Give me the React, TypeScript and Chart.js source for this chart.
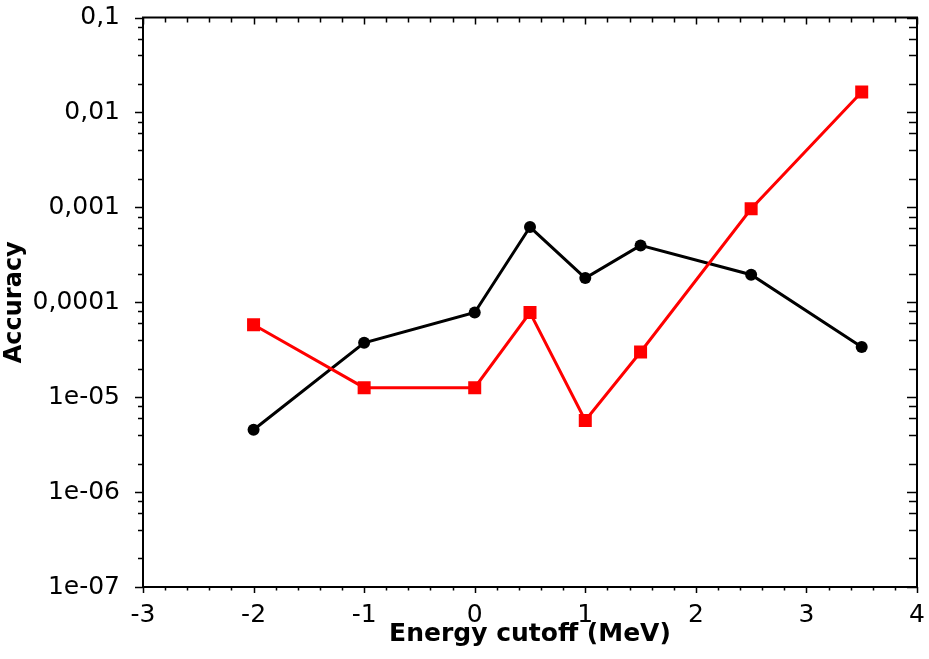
import React, { useEffect, useRef } from "react";
import { Chart, registerables } from "chart.js";

Chart.register(...registerables);

// ---- data ----
const energyCutoff = [-2, -1, 0, 0.5, 1, 1.5, 2.5, 3.5];
const blackAccuracy = [4.54e-6, 3.74e-5, 7.8e-5, 6.2e-4, 1.8e-4, 3.97e-4, 1.95e-4, 3.37e-5];
const redAccuracy = [5.8e-5, 1.26e-5, 1.26e-5, 7.8e-5, 5.68e-6, 2.99e-5, 9.66e-4, 1.64e-2];

const xMajorTicks = [-3, -2, -1, 0, 1, 2, 3, 4];
const xMinorPerMajor = 5;
const yMajorTicks = [1e-7, 1e-6, 1e-5, 1e-4, 1e-3, 1e-2, 1e-1];
const yTickLabels = ["1e-07", "1e-06", "1e-05", "0,0001", "0,001", "0,01", "0,1"];
const yMinorMultipliers = [2, 4, 6, 8];

const xTitle = "Energy cutoff (MeV)";
const yTitle = "Accuracy";

const FONT = "'DejaVu Sans', Verdana, sans-serif";

const framePlugin = {
  id: "frameTicks",
  afterDraw(chart: any) {
    const { ctx, chartArea } = chart;
    const { left, right, top, bottom } = chartArea;
    const xs = chart.scales.x;
    const ys = chart.scales.y;
    ctx.save();
    ctx.strokeStyle = "#000";
    ctx.lineWidth = 2;
    ctx.strokeRect(left, top, right - left, bottom - top);
    ctx.lineWidth = 1.5;
    ctx.beginPath();
    for (let i = 0; i < xMajorTicks.length; i++) {
      const v = xMajorTicks[i];
      const px = Math.round(xs.getPixelForValue(v)) + 0.5;
      ctx.moveTo(px, bottom); ctx.lineTo(px, bottom + 6);
      ctx.moveTo(px, top); ctx.lineTo(px, top + 7);
      if (i < xMajorTicks.length - 1) {
        const next = xMajorTicks[i + 1];
        for (let k = 1; k < xMinorPerMajor; k++) {
          const mv = v + ((next - v) * k) / xMinorPerMajor;
          const mp = Math.round(xs.getPixelForValue(mv)) + 0.5;
          ctx.moveTo(mp, bottom); ctx.lineTo(mp, bottom + 3.5);
          ctx.moveTo(mp, top); ctx.lineTo(mp, top + 5);
        }
      }
    }
    for (let i = 0; i < yMajorTicks.length; i++) {
      const v = yMajorTicks[i];
      const py = Math.round(ys.getPixelForValue(v)) + 0.5;
      ctx.moveTo(left, py); ctx.lineTo(left - 8, py);
      ctx.moveTo(right, py); ctx.lineTo(right - 10, py);
      if (i < yMajorTicks.length - 1) {
        for (const m of yMinorMultipliers) {
          const mp = Math.round(ys.getPixelForValue(v * m)) + 0.5;
          ctx.moveTo(left, mp); ctx.lineTo(left - 5, mp);
          ctx.moveTo(right, mp); ctx.lineTo(right - 8, mp);
        }
      }
    }
    ctx.stroke();
    ctx.restore();
  },
};

export default function App() {
  const ref = useRef<HTMLCanvasElement | null>(null);

  useEffect(() => {
    if (!ref.current) return;
    const chart = new Chart(ref.current, {
      type: "line",
      data: {
        datasets: [
          {
            label: "red",
            data: energyCutoff.map((x, i) => ({ x, y: redAccuracy[i] })),
            borderColor: "#ff0000",
            backgroundColor: "#ff0000",
            borderWidth: 3,
            pointStyle: "rect",
            pointRadius: 9.2,
            pointBorderWidth: 0,
            tension: 0,
            order: 0,
          },
          {
            label: "black",
            data: energyCutoff.map((x, i) => ({ x, y: blackAccuracy[i] })),
            borderColor: "#000000",
            backgroundColor: "#000000",
            borderWidth: 3,
            pointStyle: "circle",
            pointRadius: 6,
            pointBorderWidth: 0,
            tension: 0,
            order: 1,
          },
        ],
      },
      options: {
        animation: false,
        responsive: false,
        devicePixelRatio: 1,
        layout: { padding: { top: 17.5, right: 12, left: 0, bottom: 0 } },
        plugins: {
          legend: { display: false },
          tooltip: { enabled: false },
        },
        scales: {
          x: {
            type: "linear",
            min: -3,
            max: 4,
            border: { display: false },
            grid: { display: false },
            afterBuildTicks: (scale: any) => {
              scale.ticks = xMajorTicks.map((v) => ({ value: v }));
            },
            ticks: {
              color: "#000",
              font: { family: FONT, size: 25 },
              padding: 5,
              maxRotation: 0,
              autoSkip: false,
              callback: (v: any) => String(v),
            },
            title: {
              display: true,
              text: xTitle,
              color: "#000",
              font: { family: FONT, size: 25, weight: "bold" },
              padding: { top: 0, bottom: 10 },
            },
            afterFit: (scale: any) => {
              scale.height = 72;
              scale.paddingLeft = 0;
              scale.paddingRight = 0;
            },
          },
          y: {
            type: "logarithmic",
            min: 1e-7,
            max: 0.1,
            border: { display: false },
            grid: { display: false },
            afterBuildTicks: (scale: any) => {
              scale.ticks = yMajorTicks.map((v) => ({ value: v }));
            },
            ticks: {
              color: "#000",
              font: { family: FONT, size: 25 },
              padding: 15,
              autoSkip: false,
              callback: (_v: any, i: number) => yTickLabels[i],
            },
            title: {
              display: true,
              text: yTitle,
              color: "#000",
              font: { family: FONT, size: 24, weight: "bold" },
              padding: { top: 0, bottom: 0 },
            },
            afterFit: (scale: any) => {
              scale.width = 143;
              scale.paddingTop = 0;
              scale.paddingBottom = 0;
            },
          },
        },
      },
      plugins: [framePlugin],
    } as any);
    return () => chart.destroy();
  }, []);

  return (
    <div style={{ position: "absolute", left: 0, top: 0, width: 929, height: 659, background: "#fff" }}>
      <canvas ref={ref} width={929} height={659} style={{ display: "block" }} />
    </div>
  );
}
